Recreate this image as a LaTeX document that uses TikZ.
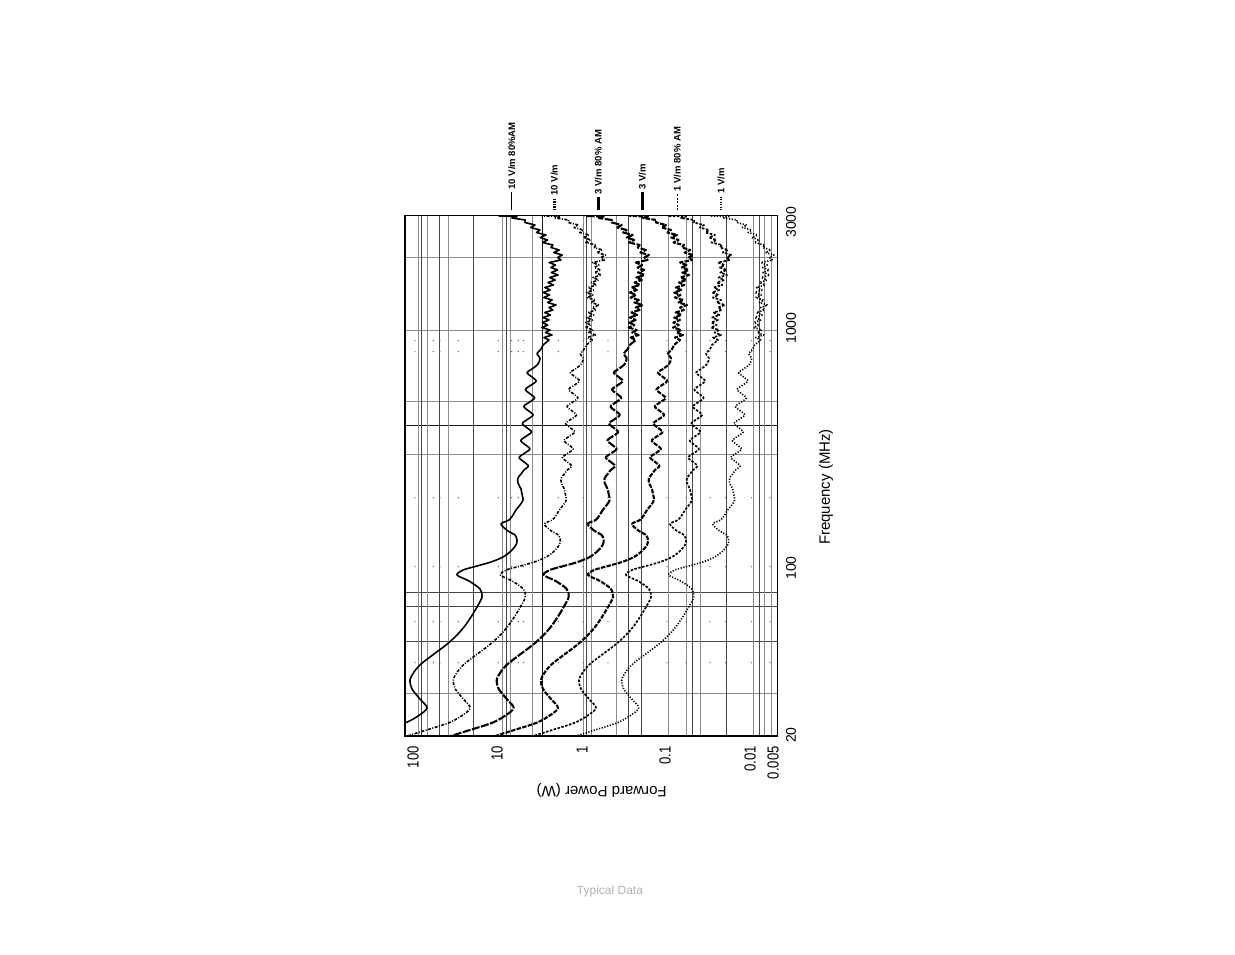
\documentclass[tikz,border=0pt]{standalone}
\usepackage{fontspec}
\setmainfont{Liberation Sans}
\newfontfamily\narrowfont[FakeStretch=0.82]{Liberation Sans}
\tikzset{
  frame/.style={line width=1.5pt, black},
  gridlt/.style={line width=0.9pt, black!45},
  griddk/.style={line width=0.9pt, black!72},
  gridbk/.style={line width=1pt, black!90},
  griddot/.style={fill=black!65},
  curveA/.style={line width=1.6pt, line join=round},
  curveB/.style={line width=1.6pt, line join=round, dash pattern=on 3pt off 1.5pt on 1pt off 1.5pt},
  curveC/.style={line width=2.1pt, line join=round, dash pattern=on 8pt off 1.5pt},
  curveD/.style={line width=2.1pt, line join=round, dash pattern=on 4.5pt off 1.3pt},
  curveE/.style={line width=1.7pt, line join=round, dash pattern=on 2.5pt off 1.5pt},
  curveF/.style={line width=1.6pt, line join=round, dash pattern=on 1.2pt off 1.6pt},
  legA/.style={line width=1.3pt},
  legB/.style={line width=2.5pt, dash pattern=on 1.5pt off 1pt},
  legC/.style={line width=3pt},
  legD/.style={line width=2.5pt},
  legE/.style={line width=1.6pt, dash pattern=on 2pt off 1.5pt},
  legF/.style={line width=1.6pt, dash pattern=on 1pt off 1.5pt},
  legtext/.style={font={\fontsize{9.5}{11}\selectfont\bfseries}, rotate=90, anchor=west, inner sep=0pt},
  powlab/.style={font={\narrowfont\fontsize{16}{18}\selectfont}, rotate=90, anchor=east, inner sep=0pt},
  freqlab/.style={font={\fontsize{14}{16}\selectfont}, rotate=90, inner sep=0pt},
  axtitle/.style={font={\fontsize{15}{17}\selectfont}, inner sep=0pt},
  note/.style={font={\fontsize{12}{14}\selectfont}, text=black!30, inner sep=0pt}
}
\newcommand\fwdcurve[2]{%
  \draw[#1, xshift=#2] plot[smooth, tension=0.5] coordinates {
    (358,738) (380,731) (405,723) (418,716) (427,708) (420,699) (412,689) (410,680)
    (414,672) (421,664) (434,654) (446,645) (456,636) (464,627) (471,617) (477,607)
    (482,597) (480,589) (469,581) (457,575) (463,570) (477,566) (491,562) (503,557)
    (511,551) (516,545) (517,540) (515,535) (508,531) (501,524) (509,520) (513,515)
    (516,510) (520,505) (523,500) (522,494) (521,489) (518,483) (518,478) (521,474)
    (524,470) (528.4,466) (523.8,461.75) (519.1,457.5) (524.5,453.25) (529.9,449)
    (525.3,444.75) (520.7,440.5) (526.1,436.25) (531.5,432) (526.9,427.75) (522.3,423.5)
    (527.7,419.25) (533.1,415) (528.5,410.75) (523.8,406.5) (529.2,402.25) (534.6,398)
    (530,393.75) (525.4,389.5) (530.8,385.25) (536.2,381) (531.6,376.75) (527,372.5)
    (532,369) (538,364) (540,358) (537,354) (541,349) (543,345)}
  -- plot coordinates {
    (549,340) (544,337.5) (552,335) (545.5,332.5) (550,330) (542,327.5) (547.7,325)
    (542.3,322.5) (549,320) (543.2,317.5) (550.4,315) (544.7,312.5) (552.9,310)
    (549,307.5) (556,305) (547.6,302.5) (552.1,300) (543.8,297.5) (549.5,295)
    (543.2,292.5) (550.2,290) (544.8,287.5) (553.4,285) (548,282.5) (555.2,280)
    (549.6,277.5) (558,275) (551.3,272.5) (557.6,270) (550.9,267.5) (555.5,265)
    (549.1,262.5) (561,260) (557.7,257.5) (562.2,255) (553.7,252.5) (559.2,250)
    (551,247.5) (553,245) (542.5,242.5) (547.5,240) (540.2,237.5) (546,235)
    (536.5,232.5) (540,230) (530.7,227.5) (535,225) (525,222.5) (525.3,220)
    (512,218) (517,216.5) (500,216) (494,214)};
}
\begin{document}
\begin{tikzpicture}[x=1pt, y=-1pt]
  \useasboundingbox[fill=white] (0,0) rectangle (1235,954);

  % frequency grid lines (horizontal)
  \foreach \yy in {257.3,330,401,454.3,693.3} \draw[gridlt] (405,\yy) -- (777.5,\yy);
  \foreach \yy in {592.3,606.7,641.7} \draw[griddk] (405,\yy) -- (777.5,\yy);
  \draw[gridbk] (405,425) -- (777.5,425);

  % power grid lines (vertical)
  \foreach \xx in {418.3,427.3,448.3,502,510.5,532.7,583.3,591.7,616.7,668.3,686.7,700.7,753.3,764.3,771}
    \draw[gridlt] (\xx,215.5) -- (\xx,736);
  \foreach \xx in {421.7,439.3,473.3,506.5,586,628.3,641.7,692.7,726.7,759.3}
    \draw[griddk] (\xx,215.5) -- (\xx,736);
  \draw[gridbk] (542,215.5) -- (542,736);

  % dotted grid rows
  \foreach \yy in {340.7,351.7,497.7,566.7,621.7,662.7}
    \foreach \xx in {415,421.7,433.3,440,458.3,498.3,511.7,518.3,523.3,558.3,583,608,667,686,710,725.7,751.7,770}
      \fill[griddot] (\xx,\yy) circle (0.7pt);

  % curves
  \begin{scope}
    \clip (405,215.5) rectangle (777.5,736);
    \fwdcurve{curveA}{0pt}
    \fwdcurve{curveB}{43.3pt}
    \fwdcurve{curveC}{86.7pt}
    \fwdcurve{curveD}{131pt}
    \fwdcurve{curveE}{169pt}
    \fwdcurve{curveF}{211.7pt}
  \end{scope}

  % frame
  \draw[frame] (405,215.5) rectangle (777.5,736);

  % legend
  \coordinate (la1) at (511.7,210); \coordinate (la0) at (511.7,192);
  \coordinate (lb1) at (554.3,210); \coordinate (lb0) at (554.3,198);
  \coordinate (lc1) at (598.3,210); \coordinate (lc0) at (598.3,197);
  \coordinate (ld1) at (642.3,210); \coordinate (ld0) at (642.3,192);
  \coordinate (le1) at (677.3,210); \coordinate (le0) at (677.3,194);
  \coordinate (lf1) at (721,210);   \coordinate (lf0) at (721,196);
  \draw[legA] (la1) -- (la0);
  \draw[legB] (lb1) -- (lb0);
  \draw[legC] (lc1) -- (lc0);
  \draw[legD] (ld1) -- (ld0);
  \draw[legE] (le1) -- (le0);
  \draw[legF] (lf1) -- (lf0);
  \node[legtext] (ta) at ([yshift=2.5pt]la0) {10 V/m 80\%AM};
  \node[legtext] (tb) at ([yshift=2.5pt]lb0) {10 V/m};
  \node[legtext] (tc) at ([yshift=2.5pt]lc0) {3 V/m 80\% AM};
  \node[legtext] (td) at ([yshift=2.5pt]ld0) {3 V/m};
  \node[legtext] (te) at ([yshift=2.5pt]le0) {1 V/m 80\% AM};
  \node[legtext] (tf) at ([yshift=2.5pt]lf0) {1 V/m};

  % power axis labels
  \node[powlab] (p100) at (413,746) {100};
  \node[powlab] (p10) at (497,746) {10};
  \node[powlab] (p1) at (582,746) {1};
  \node[powlab] (p01) at (665,746) {0.1};
  \node[powlab] (p001) at (750,746) {0.01};
  \node[powlab] (p0005) at (773,746) {0.005};

  % frequency axis labels
  \node[freqlab] (f20) at (791,735) {20};
  \node[freqlab] (f100) at (791,568) {100};
  \node[freqlab] (f1000) at (791,328) {1000};
  \node[freqlab] (f3000) at (791,222) {3000};

  % axis titles
  \node[axtitle, rotate=90] (ftitle) at (826,487) {Frequency (MHz)};
  \node[axtitle, rotate=180] (ptitle) at (601.7,790) {Forward Power (W)};
  \node[note] (typ) at (610,891) {Typical Data};
\end{tikzpicture}
\end{document}
